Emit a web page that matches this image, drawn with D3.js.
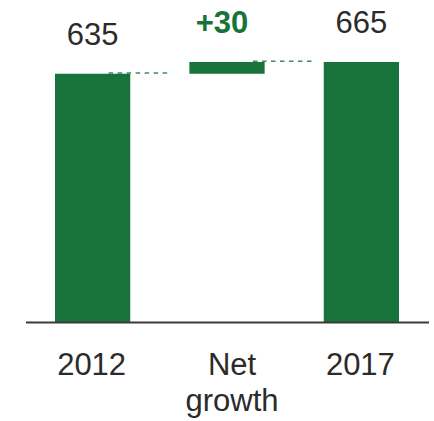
<!DOCTYPE html>
<html>
<head>
<meta charset="utf-8">
<script src="https://cdn.jsdelivr.net/npm/d3@7"></script>
<style>
  html, body { margin: 0; padding: 0; background: #fff; }
  svg { display: block; font-family: "Liberation Sans", Arial, sans-serif; }
</style>
</head>
<body>
<svg id="chart" width="434" height="421"></svg>
<script>
// Waterfall: starting total, net change, ending total
const categories = ["2012", "Net growth", "2017"];
const kinds = ["total", "delta", "total"];
const values = [635, 30, 665];
const valueLabels = ["635", "+30", "665"];
const axisLabels = [["2012"], ["Net", "growth"], ["2017"]];

const green = "#18733a";
const textColor = "#2b2b2b";

const svg = d3.select("#chart");

// Running base for each bar
let running = 0;
const bars = categories.map((c, i) => {
  let y0, y1;
  if (kinds[i] === "total") { y0 = 0; y1 = values[i]; running = values[i]; }
  else { y0 = running; y1 = running + values[i]; running = y1; }
  return { cat: c, kind: kinds[i], y0, y1, label: valueLabels[i], lines: axisLabels[i] };
});

const x = d3.scaleBand().domain(categories).range([55, 399]).paddingInner(0.44).paddingOuter(0);
const y = d3.scaleLinear().domain([0, 665]).range([322, 62]);
const bw = x.bandwidth();

// Connectors between consecutive bar tops
for (let i = 0; i < bars.length - 1; i++) {
  const cx = x(bars[i].cat) + bw / 2;
  const nx = x(bars[i + 1].cat);
  svg.append("line")
    .attr("x1", cx + 16 + (i * 10))
    .attr("x2", nx - 22 + (i * 10))
    .attr("y1", y(bars[i].y1) - 0.7)
    .attr("y2", y(bars[i].y1) - 0.7)
    .attr("stroke", "#3f8c57")
    .attr("stroke-width", 1.5)
    .attr("stroke-dasharray", "4.5,4.5");
}

// Bars
svg.selectAll("rect.bar").data(bars).join("rect")
  .attr("class", "bar")
  .attr("x", d => x(d.cat))
  .attr("width", bw)
  .attr("y", d => y(Math.max(d.y0, d.y1)))
  .attr("height", d => Math.abs(y(d.y0) - y(d.y1)))
  .attr("fill", green);

// Baseline
svg.append("line")
  .attr("x1", 26).attr("x2", 429)
  .attr("y1", y(0) + 0.5).attr("y2", y(0) + 0.5)
  .attr("stroke", "#3a3a3a").attr("stroke-width", 2);

// Value labels above bars
svg.selectAll("text.val").data(bars).join("text")
  .attr("class", "val")
  .attr("x", d => x(d.cat) + bw / 2 + (d.kind === "delta" ? -5 : 0))
  .attr("y", d => y(Math.max(d.y0, d.y1)) - 29)
  .attr("text-anchor", "middle")
  .attr("font-size", 31)
  .attr("font-weight", d => d.kind === "delta" ? "bold" : "normal")
  .attr("fill", d => d.kind === "delta" ? green : textColor)
  .text(d => d.label);

// Category labels
const cat = svg.selectAll("text.cat").data(bars).join("text")
  .attr("class", "cat")
  .attr("text-anchor", "middle")
  .attr("font-size", 31)
  .attr("fill", textColor);
cat.each(function(d) {
  const t = d3.select(this);
  const cx = x(d.cat) + bw / 2 + (d.kind === "delta" ? 5 : -1);
  d.lines.forEach((ln, j) => {
    t.append("tspan").attr("x", cx).attr("y", 375 + j * 36).text(ln);
  });
});
</script>
</body>
</html>
